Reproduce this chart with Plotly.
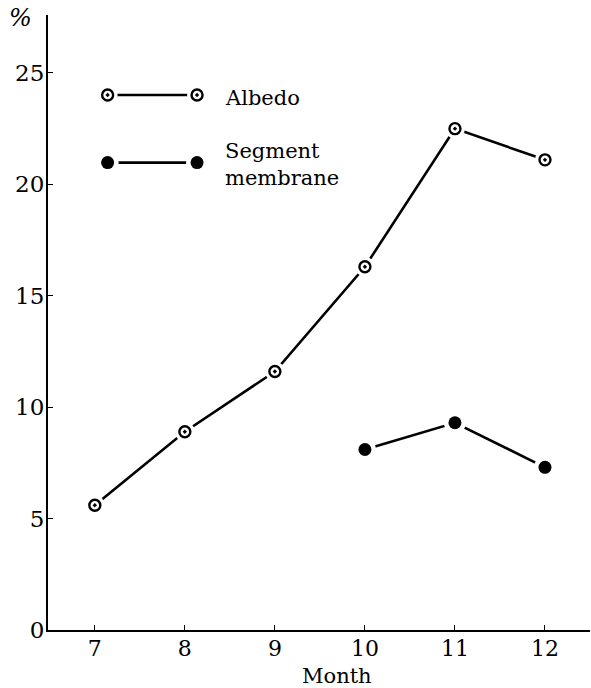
import plotly.graph_objects as go

months = [7, 8, 9, 10, 11, 12]
albedo = [5.6, 8.9, 11.6, 16.3, 22.5, 21.1]
seg_months = [10, 11, 12]
segment = [8.1, 9.3, 7.3]
y_ticks = [0, 5, 10, 15, 20, 25]

FONT = "DejaVu Serif"
fig = go.Figure()

def add_series(x, y, symbol, size, xa="x", ya="y"):
    fig.add_trace(go.Scatter(x=x, y=y, mode="lines", line=dict(color="black", width=2.6),
                             showlegend=False, hoverinfo="skip", xaxis=xa, yaxis=ya))
    fig.add_trace(go.Scatter(x=x, y=y, mode="markers", marker=dict(color="white", size=size + 9),
                             showlegend=False, hoverinfo="skip", xaxis=xa, yaxis=ya))
    if symbol == "open":
        fig.add_trace(go.Scatter(x=x, y=y, mode="markers",
                                 marker=dict(symbol="circle-open-dot", color="black", size=size,
                                             line=dict(color="black", width=2.4)),
                                 showlegend=False, xaxis=xa, yaxis=ya))
    else:
        fig.add_trace(go.Scatter(x=x, y=y, mode="markers",
                                 marker=dict(symbol="circle", color="black", size=size),
                                 showlegend=False, xaxis=xa, yaxis=ya))

add_series(months, albedo, "open", 11)
add_series(seg_months, segment, "filled", 13)

# legend keys (on an overlay axis in fractional units)
key_x = [0.11, 0.275]
add_series(key_x, [0.87, 0.87], "open", 11, "x2", "y2")
add_series(key_x, [0.76, 0.76], "filled", 13, "x2", "y2")

fig.update_layout(
    width=591, height=688,
    margin=dict(l=48, r=1, t=15, b=58),
    paper_bgcolor="white", plot_bgcolor="white",
    font=dict(family=FONT, size=22, color="black"),
    xaxis=dict(range=[6.48, 12.5], tickvals=months, ticks="inside", ticklen=5,
               tickcolor="black", showgrid=False, zeroline=False, showline=True,
               linecolor="black", linewidth=2, tickfont=dict(size=22), automargin=False,
               ticklabelstandoff=-2),
    yaxis=dict(range=[0, 27.6], tickvals=y_ticks, ticks="inside", ticklen=5,
               tickcolor="black", showgrid=False, zeroline=False, showline=True,
               linecolor="black", linewidth=2, tickfont=dict(size=23), automargin=False,
               ticklabelstandoff=-3),
    xaxis2=dict(range=[0, 1], overlaying="x", visible=False),
    yaxis2=dict(range=[0, 1], overlaying="y", visible=False),
    annotations=[
        dict(text="<i>%</i>", xref="paper", yref="paper", x=-0.05, y=0.995, xanchor="center",
             yanchor="middle", showarrow=False, font=dict(size=24, family=FONT)),
        dict(text="Month", xref="paper", yref="paper", x=0.533, y=-0.074, xanchor="center",
             yanchor="middle", showarrow=False, font=dict(size=21, family=FONT)),
        dict(text="Albedo", xref="x2", yref="y2", x=0.322, y=0.865, xanchor="left",
             yanchor="middle", showarrow=False, font=dict(size=21, family=FONT)),
        dict(text="Segment<br>membrane", xref="x2", yref="y2", x=0.322, y=0.757, xanchor="left",
             yanchor="middle", showarrow=False, align="left", font=dict(size=21, family=FONT)),
    ],
)

fig.write_html("out.html", config={"displayModeBar": False},
               post_script="document.body.style.margin='0';document.body.style.overflow='hidden';")
